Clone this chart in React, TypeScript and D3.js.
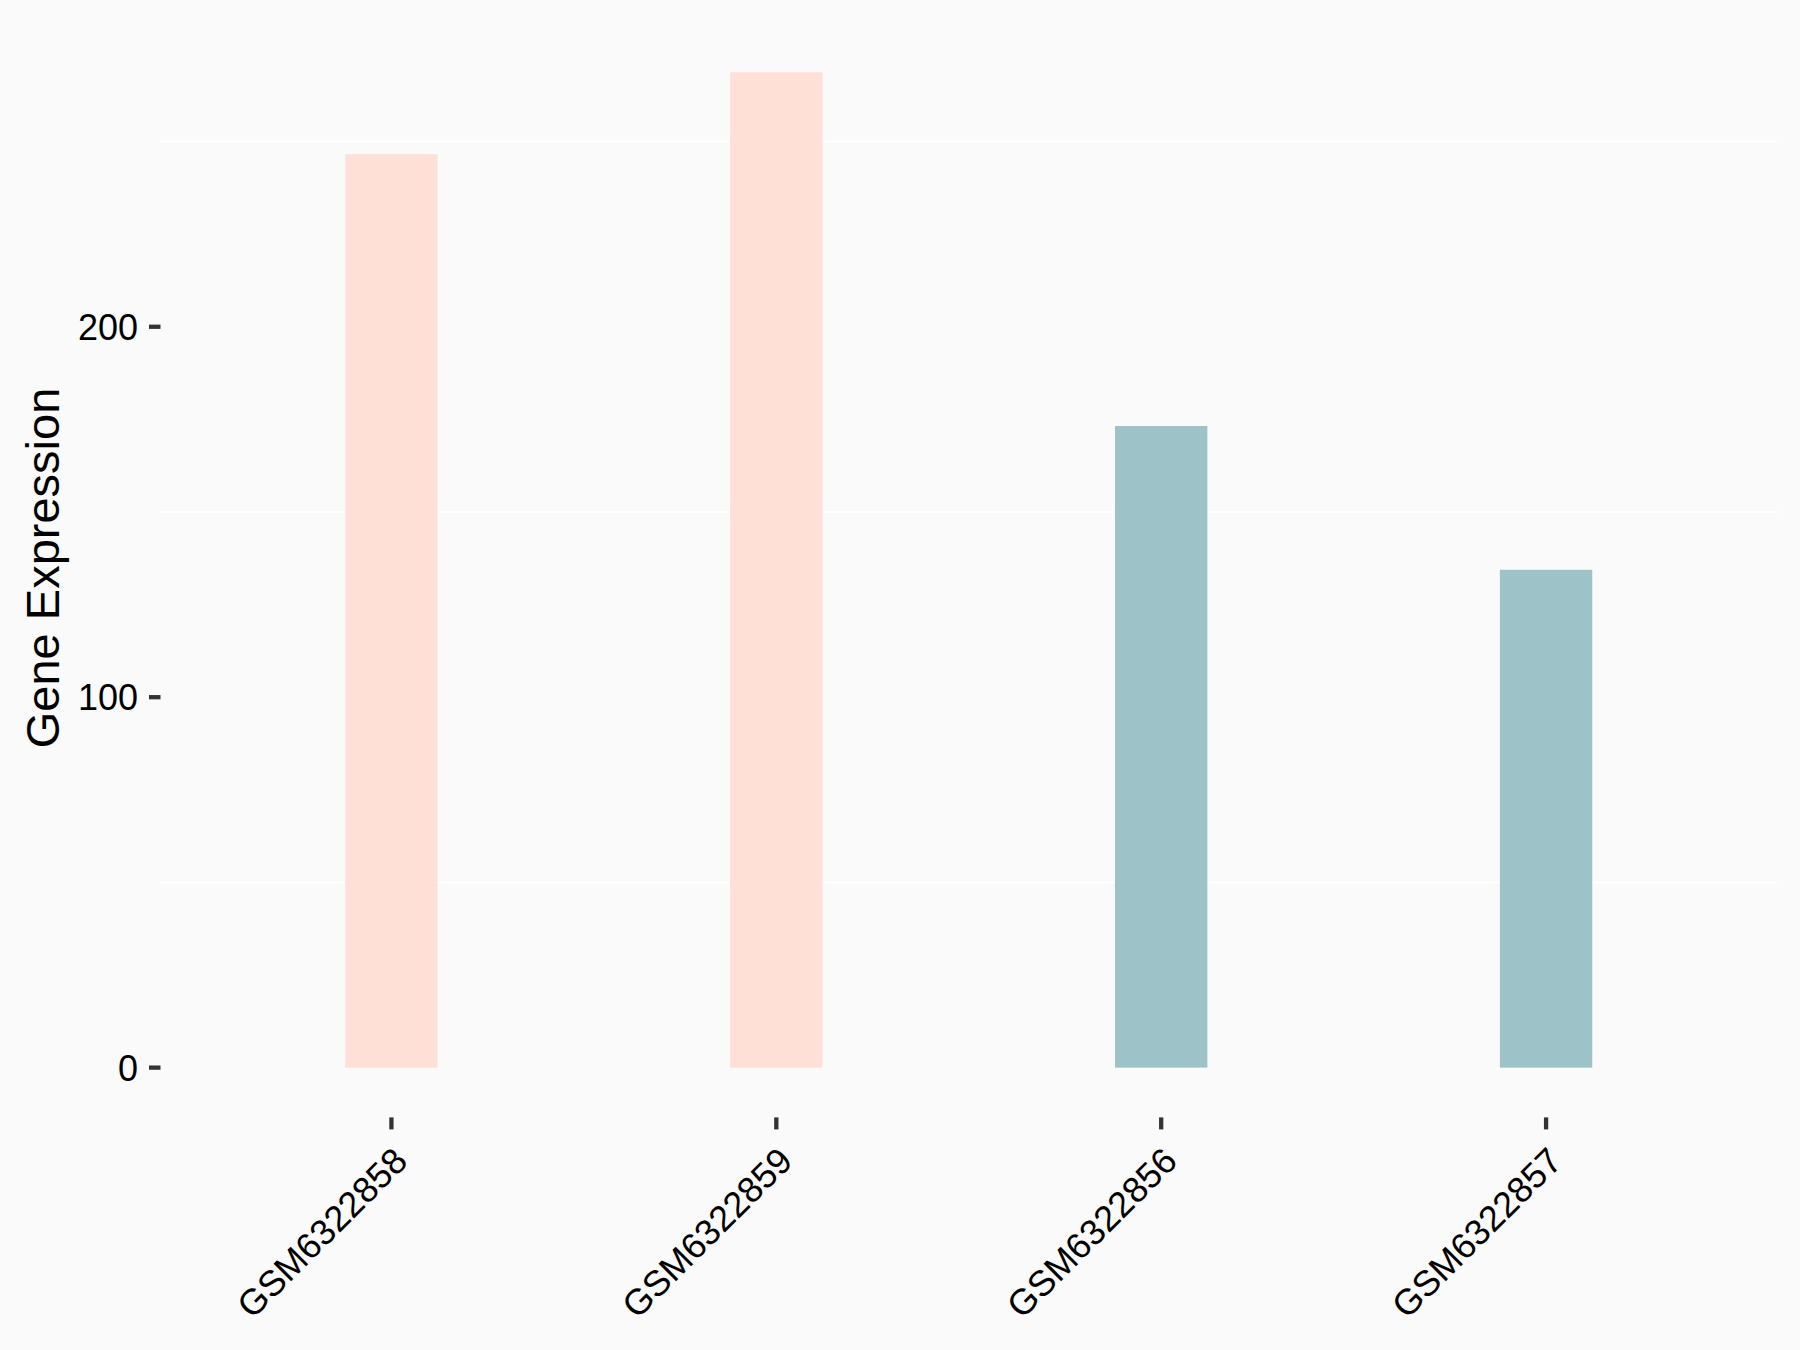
import React, { useEffect } from "react";
import * as d3 from "d3";

const categories = ["GSM6322858", "GSM6322859", "GSM6322856", "GSM6322857"];
const values = [246.6, 268.7, 173.2, 134.4];
const groups = ["A", "A", "B", "B"];
const groupColors: Record<string, string> = { A: "#FEE0D6", B: "#9DC3C8" };
const yTicks = [0, 100, 200];
const yMinor = [50, 150, 250];
const yTitle = "Gene Expression";

const W = 1800;
const H = 1350;
const panel = { left: 160.5, right: 1777, top: 22.5, bottom: 1117.4 };

export default function App() {
  useEffect(() => {
    document.body.style.margin = "0";
  }, []);

  const maxV = d3.max(values) as number;
  const expand = maxV * 0.05;
  const y = d3.scaleLinear().domain([-expand, maxV + expand]).range([panel.bottom, panel.top]);

  const n = categories.length;
  const unit = (panel.right - panel.left) / (n - 1 + 1.2);
  const x = d3
    .scalePoint<string>()
    .domain(categories)
    .range([panel.left + 0.6 * unit, panel.right - 0.6 * unit]);
  const barW = unit * 0.24;
  const font = "Arial, 'Liberation Sans', sans-serif";

  return (
    <svg width={W} height={H} style={{ display: "block", background: "#FAFAFA" }}>
      <rect x={0} y={0} width={W} height={H} fill="#FAFAFA" />
      {yMinor.map((t) => (
        <line key={"g" + t} x1={panel.left} x2={panel.right} y1={y(t)} y2={y(t)} stroke="#FFFFFF" strokeWidth={2} />
      ))}
      {categories.map((c, i) => (
        <rect
          key={c}
          x={(x(c) as number) - barW / 2}
          y={y(values[i])}
          width={barW}
          height={y(0) - y(values[i])}
          fill={groupColors[groups[i]]}
        />
      ))}
      {yTicks.map((t) => (
        <g key={"t" + t}>
          <line x1={149} x2={160.5} y1={y(t)} y2={y(t)} stroke="#333333" strokeWidth={4.3} />
          <text
            x={138}
            y={y(t)}
            dy="0.36em"
            textAnchor="end"
            fontFamily={font}
            fontSize={36}
            fill="#000"
          >
            {t}
          </text>
        </g>
      ))}
      {categories.map((c) => {
        const cx = x(c) as number;
        return (
          <g key={"x" + c}>
            <line x1={cx} x2={cx} y1={panel.bottom} y2={panel.bottom + 12} stroke="#333333" strokeWidth={4.3} />
            <text
              transform={`translate(${cx + 18},${1163}) rotate(-45)`}
              textAnchor="end"
              fontFamily={font}
              fontSize={36}
              fill="#000"
            >
              {c}
            </text>
          </g>
        );
      })}
      <text
        transform={`translate(${59},${(panel.top + panel.bottom) / 2 - 2}) rotate(-90)`}
        textAnchor="middle"
        fontFamily={font}
        fontSize={47}
        fill="#000"
      >
        {yTitle}
      </text>
    </svg>
  );
}
